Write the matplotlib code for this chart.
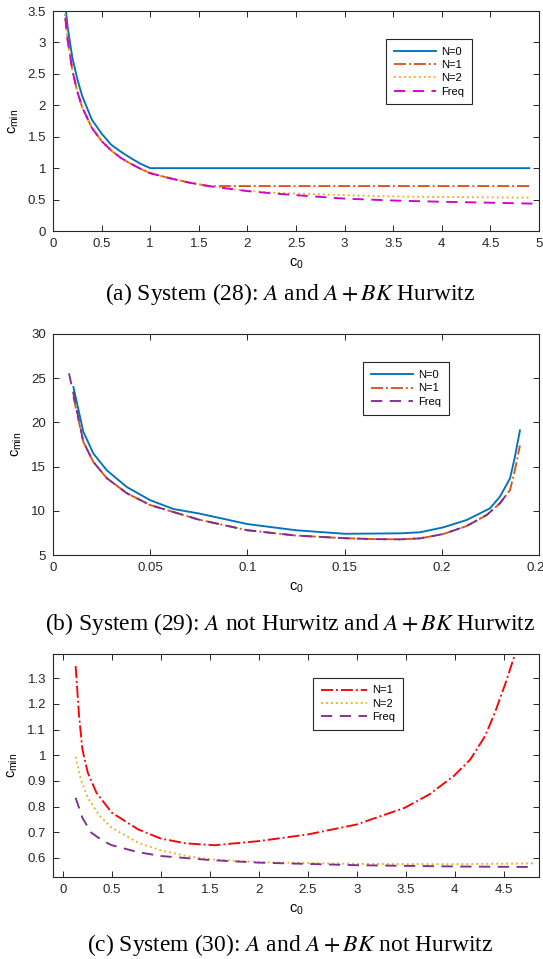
import matplotlib

matplotlib.use("agg")
import matplotlib.pyplot as plt  # noqa: E402
from matplotlib.ticker import FormatStrFormatter, MultipleLocator  # noqa: E402

plt.rcParams["font.family"] = ["Liberation Sans", "DejaVu Sans"]
plt.rcParams["axes.edgecolor"] = "#262626"
plt.rcParams["xtick.color"] = "#262626"
plt.rcParams["ytick.color"] = "#262626"

BLUE, ORANGE, YELLOW = "#0072BD", "#D95319", "#EDB120"
PURPLE, MAGENTA, RED = "#7E2F8E", "#D000D0", "#FF0000"

# (a) System (28)
a_x_n0 = [0.1, 0.15, 0.2, 0.25, 0.3, 0.4, 0.5, 0.6, 0.7, 0.8, 0.9, 1.0, 2.0, 3.0, 4.0, 4.9]
a_n0 = [4.0, 3.25, 2.75, 2.42, 2.15, 1.77, 1.55, 1.37, 1.26, 1.16, 1.07, 1.0, 1.0, 1.0, 1.0, 1.0]
a_x_n1 = [0.1, 0.15, 0.2, 0.25, 0.3, 0.4, 0.5, 0.6, 0.7, 0.8, 0.9, 1.0, 1.2, 1.4, 1.6,
          2.5, 3.5, 4.9]
a_n1 = [3.8, 3.05, 2.55, 2.22, 1.97, 1.64, 1.43, 1.28, 1.16, 1.07, 0.99, 0.92, 0.84, 0.77,
        0.715, 0.715, 0.715, 0.715]
a_x_n2 = [0.1, 0.15, 0.2, 0.25, 0.3, 0.4, 0.5, 0.6, 0.7, 0.8, 0.9, 1.0, 1.2, 1.4, 1.6, 1.8,
          2.0, 2.25, 2.5, 3.0, 3.5, 4.0, 4.5, 4.9]
a_n2 = [3.8, 3.05, 2.55, 2.22, 1.97, 1.64, 1.43, 1.28, 1.16, 1.07, 0.99, 0.92, 0.84, 0.77,
        0.715, 0.675, 0.64, 0.61, 0.595, 0.57, 0.55, 0.54, 0.535, 0.53]
a_x_fr = [0.1, 0.15, 0.2, 0.25, 0.3, 0.4, 0.5, 0.6, 0.7, 0.8, 0.9, 1.0, 1.2, 1.4, 1.6, 1.8,
          2.0, 2.25, 2.5, 3.0, 3.5, 4.0, 4.5, 4.95]
a_fr = [3.8, 3.05, 2.55, 2.22, 1.97, 1.64, 1.43, 1.28, 1.16, 1.07, 0.99, 0.92, 0.84, 0.77,
        0.715, 0.675, 0.635, 0.60, 0.57, 0.515, 0.485, 0.465, 0.45, 0.435]

# (b) System (29)
b_x_n0 = [0.0105, 0.0156, 0.0207, 0.0276, 0.0379, 0.05, 0.062, 0.075, 0.1, 0.125, 0.15,
          0.1785, 0.1888, 0.2008, 0.2128, 0.2248, 0.2299, 0.2351, 0.2376, 0.2402]
b_n0 = [24.0, 18.95, 16.5, 14.6, 12.7, 11.2, 10.2, 9.7, 8.5, 7.8, 7.4,
        7.45, 7.57, 8.13, 8.96, 10.28, 11.6, 13.67, 16.1, 19.1]
b_x_n1 = [0.0105, 0.0156, 0.0207, 0.0276, 0.0379, 0.05, 0.075, 0.1, 0.125, 0.15, 0.165,
          0.1785, 0.1888, 0.2008, 0.2128, 0.2231, 0.2299, 0.2351, 0.2376, 0.2402]
b_n1 = [22.9, 17.8, 15.55, 13.7, 12.0, 10.65, 9.0, 7.8, 7.2, 6.9, 6.8,
        6.77, 6.88, 7.37, 8.28, 9.52, 10.85, 12.35, 14.6, 17.4]
b_x_fr = [0.0082, 0.0101, 0.0156, 0.0207, 0.0276, 0.0379, 0.05, 0.075, 0.1, 0.125, 0.15,
          0.165, 0.1785, 0.1888, 0.2008, 0.2128, 0.2231, 0.2299, 0.2351]
b_fr = [25.55, 23.7, 17.8, 15.55, 13.7, 12.0, 10.65, 9.0, 7.8, 7.2, 6.9,
        6.8, 6.77, 6.88, 7.37, 8.28, 9.52, 10.85, 12.35]

# (c) System (30)
c_x_n1 = [0.131, 0.166, 0.2, 0.255, 0.343, 0.5, 0.768, 1.0, 1.26, 1.55, 2.0, 2.5, 3.0,
          3.49, 3.74, 3.99, 4.16, 4.31, 4.41, 4.52, 4.62]
c_n1 = [1.348, 1.153, 1.023, 0.932, 0.854, 0.776, 0.711, 0.675, 0.656, 0.649, 0.665, 0.691,
        0.730, 0.795, 0.847, 0.919, 0.984, 1.075, 1.166, 1.283, 1.40]
c_x_n2 = [0.131, 0.184, 0.255, 0.378, 0.5, 0.768, 1.0, 1.26, 1.51, 2.0, 3.0, 4.0, 4.8]
c_n2 = [0.994, 0.906, 0.834, 0.763, 0.717, 0.659, 0.629, 0.607, 0.594, 0.583, 0.576, 0.575,
        0.578]
c_x_fr = [0.131, 0.2, 0.29, 0.414, 0.5, 0.768, 1.0, 1.51, 2.0, 3.0, 4.0, 4.8]
c_fr = [0.834, 0.756, 0.698, 0.665, 0.649, 0.622, 0.607, 0.591, 0.581, 0.571, 0.566, 0.564]

LW = 1.35
W, H = 543, 959
fig = plt.figure(figsize=(W / 100, H / 100), dpi=100)


def make_axes(top_px, bottom_px):
    ax = fig.add_axes([53 / W, 1 - bottom_px / H, 486 / W, (bottom_px - top_px) / H])
    ax.tick_params(direction="in", top=True, right=True, length=4, width=0.7,
                   labelsize=9.5)
    ax.tick_params(axis="x", pad=5)
    ax.tick_params(axis="y", pad=5)
    for s in ax.spines.values():
        s.set_linewidth(0.8)
    ax.xaxis.set_major_formatter(FormatStrFormatter("%g"))
    ax.yaxis.set_major_formatter(FormatStrFormatter("%g"))
    ax.set_xlabel(r"$\mathregular{c_0}$", fontsize=10.5, labelpad=5)
    ax.set_ylabel(r"$\mathregular{c_{min}}$", fontsize=10.5, labelpad=5)
    return ax


def legend(ax, x0, y0, hl):
    leg = ax.legend(loc="upper left", bbox_to_anchor=(x0, y0), fontsize=8,
                    handlelength=hl, handletextpad=0.45, borderpad=0.7,
                    labelspacing=0.3, fancybox=False, framealpha=1,
                    edgecolor="#262626", borderaxespad=0)
    leg.get_frame().set_linewidth(0.8)


def caption(y_px, text):
    fig.text(0.534, 1 - y_px / H, text, ha="center", va="center", fontsize=16.9,
             family="Liberation Serif", math_fontfamily="stix")


# (a)
ax = make_axes(11, 231)
ax.plot(a_x_n0, a_n0, color=BLUE, lw=LW, label="N=0")
ax.plot(a_x_n1, a_n1, color=ORANGE, lw=LW, ls="-.", label="N=1")
ax.plot(a_x_n2, a_n2, color=YELLOW, lw=LW, ls=":", label="N=2")
ax.plot(a_x_fr, a_fr, color=MAGENTA, lw=LW, ls=(0, (6, 4)), label="Freq")
ax.set_xlim(0, 5)
ax.set_ylim(0, 3.5)
ax.xaxis.set_major_locator(MultipleLocator(0.5))
ax.yaxis.set_major_locator(MultipleLocator(0.5))
legend(ax, 0.685, 0.873, 3.8)
caption(294, r"(a) System (28): $A$ and $A+BK$ Hurwitz")

# (b)
ax = make_axes(334, 555)
ax.plot(b_x_n0, b_n0, color=BLUE, lw=LW, label="N=0")
ax.plot(b_x_n1, b_n1, color=ORANGE, lw=LW, ls="-.", label="N=1")
ax.plot(b_x_fr, b_fr, color=PURPLE, lw=LW, ls=(0, (6, 4)), label="Freq")
ax.set_xlim(0, 0.25)
ax.set_ylim(5, 30)
ax.xaxis.set_major_locator(MultipleLocator(0.05))
ax.yaxis.set_major_locator(MultipleLocator(5))
legend(ax, 0.638, 0.872, 3.8)
caption(624, r"(b) System (29): $A$ not Hurwitz and $A+BK$ Hurwitz")

# (c)
ax = make_axes(654, 877)
ax.plot(c_x_n1, c_n1, color=RED, lw=LW, ls="-.", label="N=1")
ax.plot(c_x_n2, c_n2, color=YELLOW, lw=LW, ls=":", label="N=2")
ax.plot(c_x_fr, c_fr, color=PURPLE, lw=LW, ls=(0, (6, 4)), label="Freq")
ax.set_xlim(-0.1, 4.86)
ax.set_ylim(0.525, 1.395)
ax.xaxis.set_major_locator(MultipleLocator(0.5))
ax.yaxis.set_major_locator(MultipleLocator(0.1))
legend(ax, 0.536, 0.894, 4.1)
caption(945, r"(c) System (30): $A$ and $A+BK$ not Hurwitz")

fig.savefig("out.png", dpi=100)
